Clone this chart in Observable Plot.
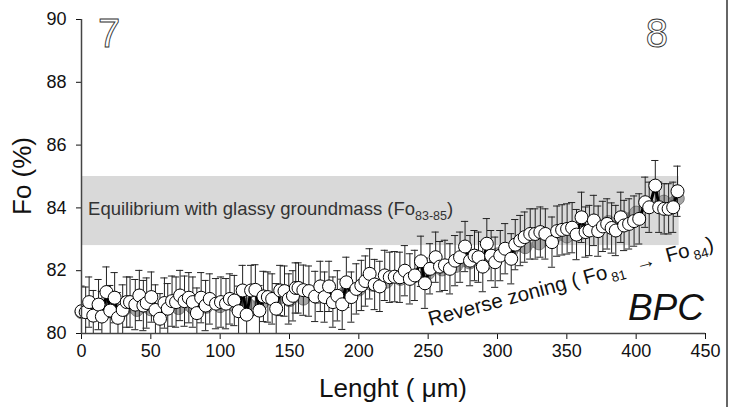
<!DOCTYPE html>
<html><head><meta charset="utf-8">
<script src="https://cdn.jsdelivr.net/npm/d3@7"></script>
<script src="https://cdn.jsdelivr.net/npm/@observablehq/plot@0.6"></script>
<style>body{margin:0;background:#fff} svg{display:block}</style>
</head><body><div id="chart"></div>
<script>
// Measured profile (white circles)
const lengthUm = [0,3,5.5,8.5,12.3,14.7,18,20.7,23.9,26.3,29.7,32.6,35,38.8,41.7,44.6,47,50.4,53.3,56.6,59.8,62.2,65.3,68.2,71.1,74.3,77.4,80.3,83.2,86.3,89.5,92.5,97,100.6,104.2,107,110.2,113.3,116.2,119.1,122.3,125.4,128.3,131.2,134.4,137.5,140.4,143.3,146.4,149.5,152.5,154.5,156.5,160,164,168.5,172.2,175.3,178.5,181.3,184.5,188,191,194.6,198.2,201.8,204.7,207.8,211.4,215.1,218.7,222.3,225.9,229.6,233.2,236.8,240.4,244.8,247.7,251.3,255.4,258.5,262.1,265.7,269.4,273,276.6,280.2,283.4,286.3,289.4,292.3,295.4,298.3,302,305.5,309.9,312.8,316.4,319.6,323.6,327.2,330.9,334.5,339.3,343,346.6,350.2,353.8,357,360.6,363.5,366.3,369.5,372.6,376,379.1,382.3,385.3,388.9,391.3,394.9,398.5,402.2,406.5,409.4,413.8,416.6,420.2,423.4,426.7,429.8];
const foPct = [80.71,80.68,81.0,80.57,80.92,80.54,81.32,80.73,81.14,80.5,80.75,81.0,81.0,80.92,81.21,80.89,80.97,81.16,80.75,80.47,80.97,80.79,81.03,81.0,81.21,81.03,81.14,81.0,80.65,81.14,80.89,81.1,80.95,81.0,80.95,81.1,81.05,80.71,81.37,80.6,81.37,81.39,80.73,81.18,81.16,81.1,80.79,81.37,81.35,81.1,81.2,81.45,81.45,81.38,81.35,81.18,81.5,81.16,81.5,81.0,81.2,80.93,81.63,81.16,81.42,81.53,81.67,81.9,81.56,81.5,81.85,81.79,81.81,81.79,82.0,81.74,81.85,82.3,81.6,82.06,82.43,82.13,82.17,82.06,82.32,82.43,82.77,82.32,82.48,82.43,82.13,82.86,82.48,82.27,82.48,82.7,82.38,82.83,82.96,83.07,83.17,83.17,83.23,83.17,82.91,83.26,83.3,83.33,83.37,83.15,83.7,83.23,83.28,83.6,83.26,83.41,83.49,83.36,83.28,83.7,83.44,83.49,83.58,83.65,84.18,84.02,84.71,84.02,83.97,83.97,84.02,84.53];
const errFo = 0.8;

// Smoothed trend (grey circles)
const trendLength = [0,10,20,30,40,50,60,70,80,90,100,110,120,130,140,150,160,170,180,190,200,210,220,230,240,250,260,270,280,290,300,310,320,330,340,350,360,370,380,390,400,410,420,430];
const trendFo = [80.68,80.70,80.71,80.73,80.75,80.77,80.79,80.81,80.83,80.85,80.87,80.90,80.93,80.97,81.02,81.06,81.11,81.16,81.22,81.30,81.40,81.55,81.65,81.74,81.82,81.92,82.04,82.15,82.26,82.38,82.52,82.63,82.75,82.87,82.99,83.09,83.20,83.40,83.55,83.70,83.85,84.05,84.20,84.30];

// Equilibrium band
const bandLength = [0, 431];
const bandFo = [82.8, 85.0];

const xTicks = [0,50,100,150,200,250,300,350,400,450];
const yTicks = [80,82,84,86,88,90];

const pts = lengthUm.map((x,i)=>({x, y: foPct[i], lo: foPct[i]-errFo, hi: foPct[i]+errFo}));
const trend = trendLength.map((x,i)=>({x, y: trendFo[i]}));
const band = [{x1: bandLength[0], x2: bandLength[1], y1: bandFo[0], y2: bandFo[1]}];
const capHalf = 2.6;

const chart = Plot.plot({
  width: 733, height: 407,
  marginLeft: 81, marginRight: 28, marginTop: 19, marginBottom: 74,
  style: {fontFamily: "'Liberation Sans', Arial, sans-serif", fontSize: "18px", color: "#111", background: "#fff", overflow: "visible"},
  x: {domain: [0, 450], ticks: xTicks, label: null, tickSize: 6, tickPadding: 5},
  y: {domain: [80, 90], ticks: yTicks, label: null, tickSize: 5, tickPadding: 10},
  marks: [
    Plot.rect(band, {x1: "x1", x2: "x2", y1: "y1", y2: "y2", fill: "#d9d9d9"}),
    Plot.line(trend, {x: "x", y: "y", stroke: "#8c8c8c", strokeWidth: 6}),
    Plot.dot(trend, {x: "x", y: "y", r: 6.5, fill: "#a6a6a6", stroke: "#7a7a7a", strokeWidth: 1}),
    Plot.ruleX(pts, {x: "x", y1: "lo", y2: "hi", stroke: "#222", strokeWidth: 1, clip: true}),
    Plot.ruleY(pts, {y: "hi", x1: d => d.x - capHalf, x2: d => d.x + capHalf, stroke: "#222", strokeWidth: 1, clip: true}),
    Plot.ruleY(pts, {y: "lo", x1: d => d.x - capHalf, x2: d => d.x + capHalf, stroke: "#222", strokeWidth: 1, clip: true}),
    Plot.line(pts, {x: "x", y: "y", stroke: "#000", strokeWidth: 3}),
    Plot.dot(pts, {x: "x", y: "y", r: 6.5, fill: "#fff", stroke: "#000", strokeWidth: 1}),
    Plot.ruleX([0], {stroke: "#444", strokeWidth: 1.5}),
    Plot.ruleY([80], {stroke: "#444", strokeWidth: 1.5})
  ]
});

document.getElementById("chart").appendChild(chart);

const sx = chart.scale("x").apply, sy = chart.scale("y").apply;
const svg = d3.select(chart);
const ff = "'Liberation Sans', Arial, sans-serif";

// Panel digits
svg.append("text").attr("x", sx(12.3)).attr("y", sy(89.11)).attr("text-anchor", "start").attr("font-size", 40).attr("font-family", ff)
  .attr("fill", "#fff").attr("stroke", "#333").attr("stroke-width", 0.9).text("7");
svg.append("text").attr("x", sx(407.3)).attr("y", sy(89.11)).attr("text-anchor", "start").attr("font-size", 40).attr("font-family", ff)
  .attr("fill", "#fff").attr("stroke", "#333").attr("stroke-width", 0.9).text("8");

// Band label
const eq = svg.append("text").attr("x", sx(5.1)).attr("y", sy(83.76)).attr("text-anchor", "start").attr("font-size", 18.5).attr("font-family", ff).attr("fill", "#333");
eq.append("tspan").text("Equilibrium with glassy groundmass (Fo");
eq.append("tspan").attr("font-size", 12.5).attr("dy", 5).text("83-85");
eq.append("tspan").attr("dy", -5).text(")");

// BPC
svg.append("text").attr("x", sx(449.3)).attr("y", sy(80.41)).attr("text-anchor", "end").attr("font-size", 37)
  .attr("font-style", "italic").attr("font-family", ff).attr("fill", "#111").text("BPC");

// Reverse zoning
const rx = sx(251.8), ry = sy(80.22);
const rz = svg.append("text").attr("transform", `translate(${rx},${ry}) rotate(-15)`).attr("text-anchor", "start").attr("font-size", 20.5).attr("font-family", ff).attr("fill", "#111");
rz.append("tspan").text("Reverse zoning ( Fo");
rz.append("tspan").attr("font-size", 13.5).attr("dy", 5).attr("dx", 3).text("81");
rz.append("tspan").attr("dy", -5).text("  \u2192  Fo");
rz.append("tspan").attr("font-size", 13.5).attr("dy", 5).attr("dx", 3).text("84");
rz.append("tspan").attr("dy", -5).text(")");

// Axis titles
svg.append("text").attr("transform", `translate(31,${sy(85)}) rotate(-90)`).attr("text-anchor", "middle")
  .attr("font-size", 26).attr("font-family", ff).attr("fill", "#111").text("Fo (%)");
svg.append("text").attr("x", sx(225)).attr("y", 397).attr("text-anchor", "middle")
  .attr("font-size", 26).attr("font-family", ff).attr("fill", "#111").text("Lenght ( \u03bcm)");

// right panel border
svg.append("line").attr("x1", 727).attr("x2", 727).attr("y1", 0).attr("y2", 407).attr("stroke", "#333").attr("stroke-width", 1.5);
</script>
</body></html>
